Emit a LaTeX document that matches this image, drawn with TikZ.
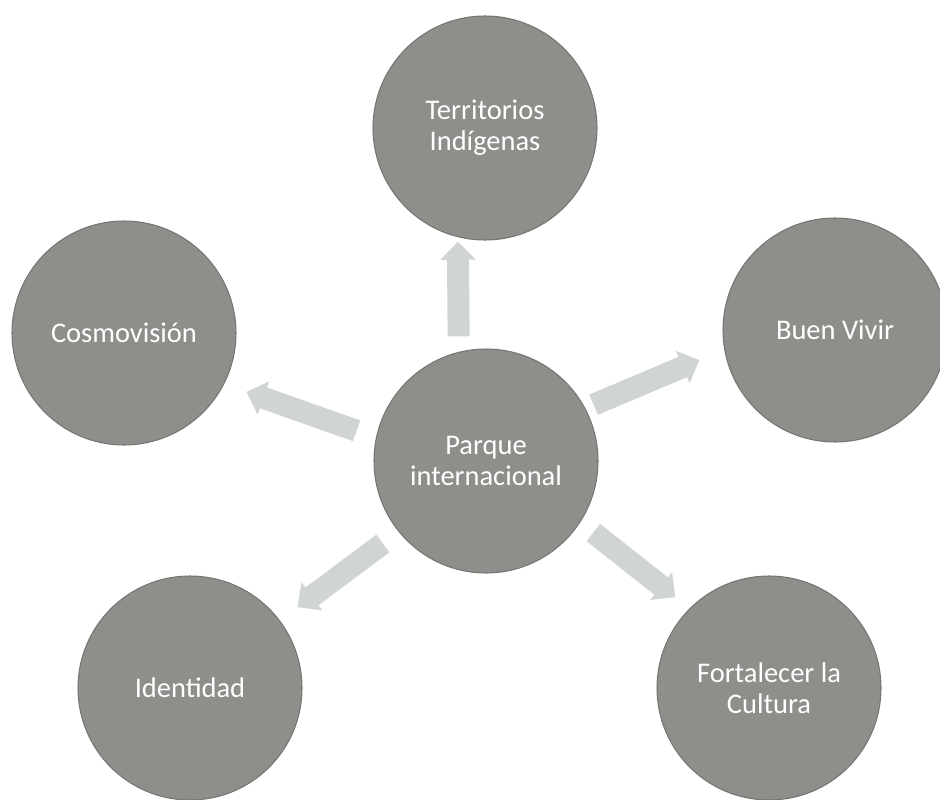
\documentclass[tikz,border=0pt]{standalone}
\usepackage{fontspec}
\setmainfont{Carlito}
\usetikzlibrary{arrows.meta}

\definecolor{bubblegray}{RGB}{141,143,139}
\definecolor{bubbleedge}{RGB}{116,118,115}
\definecolor{linkgray}{RGB}{208,212,212}

\begin{document}
\begin{tikzpicture}[
  topic/.style={circle, minimum size=4.48cm, inner sep=0pt, fill=bubblegray,
    draw=bubbleedge, line width=0.6pt, text=white, align=center,
    font=\fontsize{16.2}{17.8}\selectfont},
  link/.style={draw=linkgray, line width=0.44cm,
    -{Triangle[width=0.68cm, length=0.36cm]}}
]
\useasboundingbox (0,0) rectangle (18.8,15.98);

% Centre and the five topics round it
\node[topic] (parque) at (9.72, 6.76) {Parque\\internacional};
\node[topic] (territorios) at (9.70, 13.42) {Territorios\\Indígenas};
\node[topic] (cosmovision) at (2.48, 9.32) {Cosmovisión};
\node[topic] (buenvivir) at (16.70, 9.38) {Buen Vivir};
\node[topic] (identidad) at (3.80, 2.22) {Identidad};
\node[topic] (cultura) at (15.38, 2.22) {Fortalecer la\\Cultura};

% Arrows out of the centre
\draw[link, shorten <=0.31cm, shorten >=0.09cm] (parque.104) -- (territorios.256);
\draw[link, shorten <=0.18cm, shorten >=0.54cm] (parque.28) -- (buenvivir.190);
\draw[link, shorten <=0.41cm, shorten >=0.47cm] (parque.168) -- (cosmovision.333);
\draw[link, shorten <=0.39cm, shorten >=0.44cm] (parque.219) -- (identidad.37);
\draw[link, shorten <=0.33cm, shorten >=0.36cm] (parque.327) -- (cultura.135);

\end{tikzpicture}
\end{document}
